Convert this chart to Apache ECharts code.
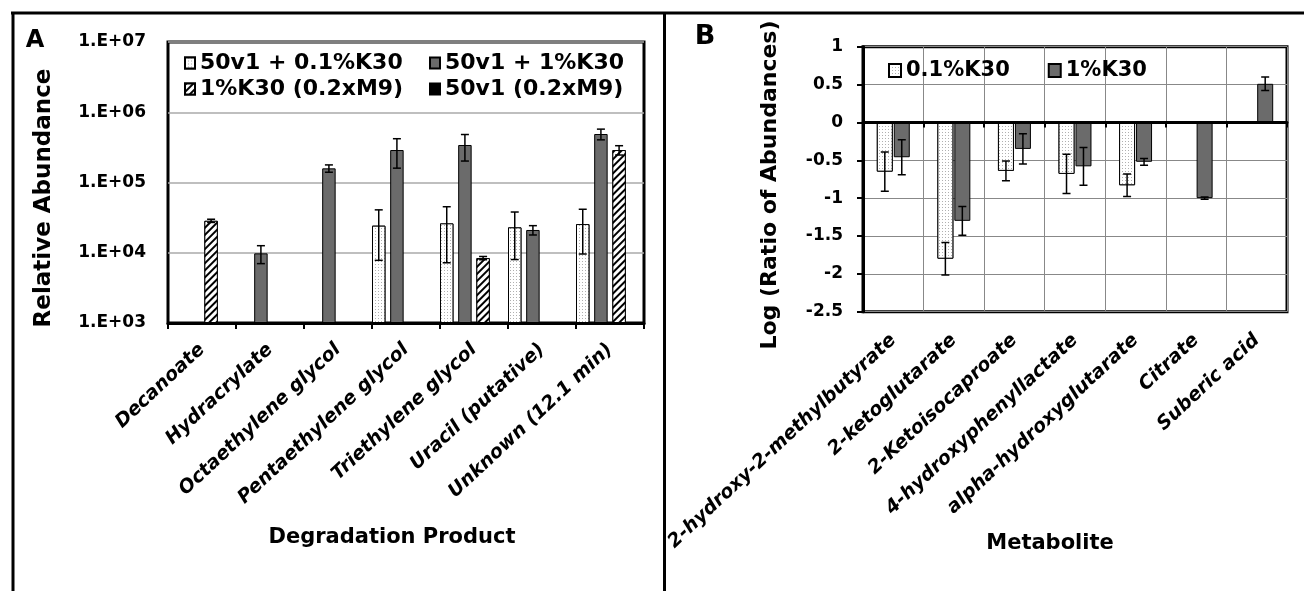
<!DOCTYPE html>
<html>
<head>
<meta charset="utf-8">
<title>Degradation products and metabolites</title>
<script src="https://cdn.jsdelivr.net/npm/echarts@6/dist/echarts.min.js"></script>
<style>
    html, body { margin: 0; padding: 0; background: #fff; }
    #chart { width: 1304px; height: 591px; }
</style>
</head>
<body>
<div id="chart"></div>
<script>
    // Panel A - degradation products (log scale)
    const productNames = ['Decanoate', 'Hydracrylate', 'Octaethylene glycol', 'Pentaethylene glycol',
        'Triethylene glycol', 'Uracil (putative)', 'Unknown (12.1 min)'];
    const seriesNamesA = ['50v1 + 0.1%K30', '50v1 + 1%K30', '1%K30 (0.2xM9)', '50v1 (0.2xM9)'];
    const abund01 = [null, null, null, 24300, 26200, 23000, 25600];
    const abund01Err = [null, null, null, 16500, 19000, 15000, 16000];
    const abund1 = [null, 9800, 159000, 290000, 342000, 21100, 490000];
    const abund1Err = [null, 2800, 19000, 130000, 140000, 3200, 85000];
    const abundM9 = [28500, null, null, null, 8400, null, 290000];
    const abundM9Err = [1500, null, null, null, 450, null, 44000];
    const abund50v1 = [null, null, null, null, null, null, null];
    const yTicksA = ['1.E+03', '1.E+04', '1.E+05', '1.E+06', '1.E+07'];

    // Panel B - metabolites, log ratio
    const metaboliteNames = ['2-hydroxy-2-methylbutyrate', '2-ketoglutarate', '2-Ketoisocaproate',
        '4-hydroxyphenyllactate', 'alpha-hydroxyglutarate', 'Citrate', 'Suberic acid'];
    const seriesNamesB = ['0.1%K30', '1%K30'];
    const ratio01 = [-0.65, -1.8, -0.64, -0.68, -0.83, null, null];
    const ratio01Err = [0.26, 0.215, 0.13, 0.26, 0.15, null, null];
    const ratio1 = [-0.46, -1.3, -0.35, -0.58, -0.52, -1.0, 0.51];
    const ratio1Err = [0.23, 0.19, 0.2, 0.25, 0.045, 0.015, 0.09];

    const FONT = 'DejaVu Sans';
    const GREY = '#6b6b6b';

    const dotDecal = {
        symbol: 'rect', symbolSize: 1, color: '#b0b0b0', backgroundColor: '#ffffff',
        dashArrayX: [1, 2], dashArrayY: [1, 2], rotation: 0
    };
    const hatchDecal = {
        symbol: 'rect', symbolSize: 1, color: '#000000', backgroundColor: '#ffffff',
        dashArrayX: [1, 0], dashArrayY: [1.5, 3], rotation: -Math.PI / 4
    };

    // bar layout used by the error bar series so whiskers sit on their bars
    const A_GAP = 0.35;
    const B_WIDTH = 16;
    const B_GAP = 0.06;

    function errData (vals, errs) {
        const out = [];
        vals.forEach(function (v, i) {
            if (v !== null && errs[i] !== null) {
                out.push([i, v, errs[i]]);
            }
        });
        return out;
    }

    function errorRenderer (barIndex, barCount, widthOf, gap) {
        return function (params, api) {
            const cat = api.value(0);
            const val = api.value(1);
            const err = api.value(2);
            const band = api.size([1, 1])[0];
            const w = widthOf(band);
            const total = barCount * w + (barCount - 1) * w * gap;
            const x = api.coord([cat, val])[0] - total / 2 + w / 2 + barIndex * w * (1 + gap);
            const yHi = api.coord([cat, val + err])[1];
            const yLo = api.coord([cat, val - err])[1];
            const cap = 4;
            const style = { stroke: '#000', lineWidth: 1.5 };
            return {
                type: 'group',
                children: [
                    { type: 'line', shape: { x1: x, y1: yHi, x2: x, y2: yLo }, style: style },
                    { type: 'line', shape: { x1: x - cap, y1: yHi, x2: x + cap, y2: yHi }, style: style },
                    { type: 'line', shape: { x1: x - cap, y1: yLo, x2: x + cap, y2: yLo }, style: style }
                ]
            };
        };
    }

    const widthA = function (band) { return band / (4 + 3 * A_GAP); };
    const widthB = function () { return B_WIDTH; };

    function errSeries (xIdx, yIdx, data, barIndex, barCount, widthOf, gap) {
        return {
            type: 'custom',
            xAxisIndex: xIdx,
            yAxisIndex: yIdx,
            z: 4,
            clip: true,
            silent: true,
            encode: { x: 0, y: 1 },
            data: data,
            renderItem: errorRenderer(barIndex, barCount, widthOf, gap)
        };
    }

    const labelText = { fontFamily: FONT, fontWeight: 'bold', color: '#000' };

    const chart = echarts.init(document.getElementById('chart'));
    chart.setOption({
        animation: false,
        backgroundColor: '#fff',
        grid: [
            { left: 168, right: 660, top: 42, height: 281, show: true, borderColor: '#000', borderWidth: 3 },
            { left: 863, right: 17, top: 46.7, height: 265, show: true, borderColor: '#000', borderWidth: 3 }
        ],
        legend: [
            {
                left: 184, top: 52, padding: 0, orient: 'vertical', itemGap: 4, itemWidth: 10, itemHeight: 11,
                icon: 'rect', selectedMode: false,
                data: [seriesNamesA[0], seriesNamesA[2]],
                textStyle: Object.assign({ fontSize: 22 }, labelText)
            },
            {
                left: 429, top: 52, padding: 0, orient: 'vertical', itemGap: 4, itemWidth: 10, itemHeight: 11,
                icon: 'rect', selectedMode: false,
                data: [seriesNamesA[1], seriesNamesA[3]],
                textStyle: Object.assign({ fontSize: 22 }, labelText)
            },
            {
                left: 888, top: 60, padding: 0, orient: 'horizontal', itemGap: 38, itemWidth: 12, itemHeight: 13,
                icon: 'rect', selectedMode: false,
                data: seriesNamesB,
                textStyle: Object.assign({ fontSize: 21 }, labelText)
            }
        ],
        xAxis: [
            {
                gridIndex: 0,
                type: 'category',
                data: productNames,
                z: 5,
                axisLine: { lineStyle: { color: '#000', width: 3 } },
                axisTick: { show: true, interval: 0, length: 6, lineStyle: { color: '#000', width: 2 } },
                axisLabel: Object.assign({ interval: 0, rotate: 43, margin: 24, fontSize: 19, fontStyle: 'italic' }, labelText),
                splitLine: { show: false }
            },
            {
                gridIndex: 1,
                type: 'category',
                data: metaboliteNames,
                position: 'bottom',
                axisLine: { show: false, onZero: false },
                axisTick: { show: false },
                axisLabel: Object.assign({ interval: 0, rotate: 43, margin: 26, fontSize: 19, fontStyle: 'italic' }, labelText),
                splitLine: { show: true, interval: 0, lineStyle: { color: '#888', width: 1 } }
            },
            {
                gridIndex: 1,
                type: 'category',
                data: metaboliteNames,
                position: 'bottom',
                z: 5,
                axisLine: { onZero: true, lineStyle: { color: '#000', width: 3 } },
                axisTick: { show: true, interval: 0, length: 5, lineStyle: { color: '#000', width: 2 } },
                axisLabel: { show: false },
                splitLine: { show: false }
            }
        ],
        yAxis: [
            {
                gridIndex: 0,
                type: 'log',
                logBase: 10,
                min: 1000,
                max: 10000000,
                axisLine: { show: false },
                axisTick: { show: false },
                axisLabel: Object.assign({
                    margin: 22,
                    fontSize: 17,
                    formatter: function (v) {
                        return yTicksA[Math.round(Math.log10(v)) - 3];
                    }
                }, labelText),
                splitLine: { lineStyle: { color: '#aaa', width: 1.5 } }
            },
            {
                gridIndex: 1,
                type: 'value',
                min: -2.5,
                max: 1,
                interval: 0.5,
                axisLine: { show: true, onZero: false, lineStyle: { color: '#000', width: 3 } },
                axisTick: { show: true, length: 6, lineStyle: { color: '#000', width: 2 } },
                axisLabel: Object.assign({ margin: 20, fontSize: 17 }, labelText),
                splitLine: { lineStyle: { color: '#888', width: 1 } }
            }
        ],
        series: [
            {
                name: seriesNamesA[0], type: 'bar', xAxisIndex: 0, yAxisIndex: 0,
                barGap: '35%', barCategoryGap: '0%', data: abund01,
                itemStyle: { color: '#fff', borderColor: '#000', borderWidth: 1, decal: dotDecal }
            },
            {
                name: seriesNamesA[1], type: 'bar', xAxisIndex: 0, yAxisIndex: 0,
                barGap: '35%', barCategoryGap: '0%', data: abund1,
                itemStyle: { color: GREY, borderColor: '#000', borderWidth: 1 }
            },
            {
                name: seriesNamesA[2], type: 'bar', xAxisIndex: 0, yAxisIndex: 0,
                barGap: '35%', barCategoryGap: '0%', data: abundM9,
                itemStyle: { color: '#fff', borderColor: '#000', borderWidth: 1, decal: hatchDecal }
            },
            {
                name: seriesNamesA[3], type: 'bar', xAxisIndex: 0, yAxisIndex: 0,
                barGap: '35%', barCategoryGap: '0%', data: abund50v1,
                itemStyle: { color: '#000', borderColor: '#000', borderWidth: 1 }
            },
            errSeries(0, 0, errData(abund01, abund01Err), 0, 4, widthA, A_GAP),
            errSeries(0, 0, errData(abund1, abund1Err), 1, 4, widthA, A_GAP),
            errSeries(0, 0, errData(abundM9, abundM9Err), 2, 4, widthA, A_GAP),
            {
                name: seriesNamesB[0], type: 'bar', xAxisIndex: 1, yAxisIndex: 1,
                barWidth: B_WIDTH, barGap: '6%', data: ratio01,
                itemStyle: { color: '#fff', borderColor: '#000', borderWidth: 1, decal: dotDecal }
            },
            {
                name: seriesNamesB[1], type: 'bar', xAxisIndex: 1, yAxisIndex: 1,
                barWidth: B_WIDTH, barGap: '6%', data: ratio1,
                itemStyle: { color: GREY, borderColor: '#000', borderWidth: 1 }
            },
            errSeries(1, 1, errData(ratio01, ratio01Err), 0, 2, widthB, B_GAP),
            errSeries(1, 1, errData(ratio1, ratio1Err), 1, 2, widthB, B_GAP)
        ],
        graphic: [
            { type: 'line', silent: true, shape: { x1: 11, y1: 13, x2: 1304, y2: 13 }, style: { stroke: '#000', lineWidth: 3 } },
            { type: 'line', silent: true, shape: { x1: 13, y1: 12, x2: 13, y2: 591 }, style: { stroke: '#000', lineWidth: 3 } },
            { type: 'line', silent: true, shape: { x1: 664.5, y1: 12, x2: 664.5, y2: 591 }, style: { stroke: '#000', lineWidth: 3 } },
            { type: 'text', x: 35, y: 41, style: { text: 'A', fontFamily: FONT, fontWeight: 'bold', fontSize: 24, fill: '#000', align: 'center', verticalAlign: 'middle' } },
            { type: 'text', x: 705, y: 37, style: { text: 'B', fontFamily: FONT, fontWeight: 'bold', fontSize: 27, fill: '#000', align: 'center', verticalAlign: 'middle' } },
            { type: 'text', x: 44, y: 198, rotation: Math.PI / 2, style: { text: 'Relative Abundance', fontFamily: FONT, fontWeight: 'bold', fontSize: 23, fill: '#000', align: 'center', verticalAlign: 'middle' } },
            { type: 'text', x: 770, y: 185, rotation: Math.PI / 2, style: { text: 'Log (Ratio of Abundances)', fontFamily: FONT, fontWeight: 'bold', fontSize: 22, fill: '#000', align: 'center', verticalAlign: 'middle' } },
            { type: 'text', x: 392, y: 538, style: { text: 'Degradation Product', fontFamily: FONT, fontWeight: 'bold', fontSize: 21, fill: '#000', align: 'center', verticalAlign: 'middle' } },
            { type: 'text', x: 1050, y: 544, style: { text: 'Metabolite', fontFamily: FONT, fontWeight: 'bold', fontSize: 21, fill: '#000', align: 'center', verticalAlign: 'middle' } }
        ]
    });
</script>
</body>
</html>
